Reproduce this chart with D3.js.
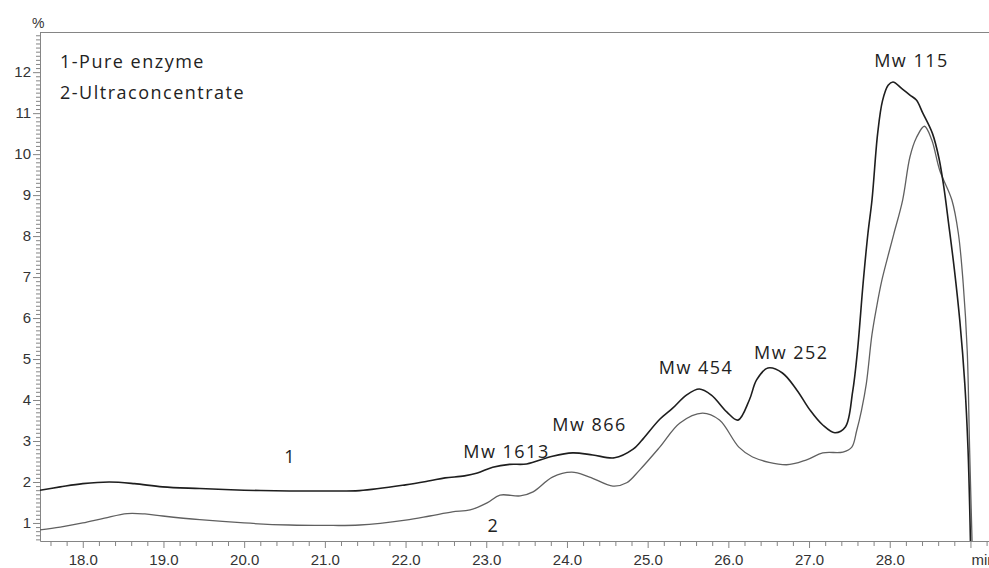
<!DOCTYPE html>
<html>
<head>
<meta charset="utf-8">
<script src="https://cdn.jsdelivr.net/npm/d3@7"></script>
<style>
  body { margin: 0; background: #fff; }
  svg { display: block; }
  .axis path, .axis line { stroke: #858585; }
  .axis text { font-family: "Liberation Sans", Arial, sans-serif; font-size: 15px; fill: #333; }
  .note { font-family: "Open Sans", sans-serif; font-size: 18px; letter-spacing: 1.5px; fill: #222; }
</style>
</head>
<body>
<div id="chart"></div>
<script>
// retention time (min) and signal (%)
const time1 = [17.47, 17.72, 18.00, 18.33, 18.64, 18.99, 19.45, 20.00, 20.56, 21.00, 21.43, 22.00, 22.30, 22.49,
  22.73, 22.89, 23.08, 23.29, 23.50, 23.82, 24.07, 24.32, 24.59, 24.82, 24.92, 25.15, 25.31, 25.48, 25.64, 25.79,
  25.98, 26.12, 26.26, 26.35, 26.49, 26.67, 26.85, 27.01, 27.17, 27.32, 27.45, 27.54, 27.60, 27.67, 27.73, 27.78,
  27.85, 27.91, 27.98, 28.04, 28.15, 28.25, 28.33, 28.41, 28.53, 28.61, 28.67, 28.73, 28.80, 28.87, 28.93, 28.97, 29.00];
const value1 = [1.80, 1.88, 1.96, 2.00, 1.96, 1.88, 1.84, 1.80, 1.78, 1.78, 1.79, 1.93, 2.03, 2.10,
  2.15, 2.22, 2.36, 2.43, 2.44, 2.63, 2.71, 2.66, 2.59, 2.80, 3.00, 3.53, 3.80, 4.12, 4.27, 4.12,
  3.71, 3.51, 4.00, 4.49, 4.78, 4.66, 4.24, 3.76, 3.39, 3.20, 3.34, 4.20, 5.20, 6.85, 8.07, 8.88,
  10.50, 11.30, 11.68, 11.76, 11.60, 11.44, 11.32, 11.00, 10.50, 9.90, 9.20, 8.30, 7.20, 5.90, 4.40, 2.80, 0.56];

const time2 = [17.47, 17.72, 18.00, 18.27, 18.55, 18.77, 18.99, 19.45, 20.00, 20.56, 21.00, 21.43, 22.00, 22.30,
  22.58, 22.80, 23.01, 23.17, 23.42, 23.58, 23.82, 24.06, 24.28, 24.57, 24.74, 24.90, 25.15, 25.40, 25.68, 25.89,
  26.13, 26.30, 26.72, 26.97, 27.17, 27.42, 27.53, 27.59, 27.65, 27.71, 27.78, 27.84, 27.90, 27.97, 28.05, 28.16,
  28.25, 28.33, 28.43, 28.52, 28.62, 28.77, 28.85, 28.91, 28.96, 28.99, 29.02];
const value2 = [0.83, 0.90, 1.00, 1.12, 1.23, 1.22, 1.17, 1.08, 1.00, 0.95, 0.94, 0.95, 1.07, 1.17,
  1.27, 1.32, 1.49, 1.68, 1.66, 1.76, 2.12, 2.24, 2.12, 1.90, 1.98, 2.29, 2.85, 3.44, 3.68, 3.51,
  2.85, 2.61, 2.42, 2.54, 2.71, 2.73, 2.85, 3.25, 3.75, 4.40, 5.60, 6.30, 6.90, 7.45, 8.05, 8.88,
  9.93, 10.40, 10.68, 10.35, 9.60, 8.88, 8.07, 6.85, 5.20, 2.78, 0.56];

// peak labels: text, time, height of the baseline
const peakText = ["1", "2", "Mw 1613", "Mw 866", "Mw 454", "Mw 252", "Mw 115"];
const peakTime = [20.57, 23.09, 23.25, 24.28, 25.60, 26.78, 28.27];
const peakValue = [2.46, 0.78, 2.59, 3.24, 4.63, 5.00, 12.12];

const legendText = ["1-Pure enzyme", "2-Ultraconcentrate"];

const xTicks = d3.range(18, 30);      // 18.0 ... 29 (29 shows "min")
const yTicks = d3.range(1, 13);       // 1 ... 12

function drawChart() {
    const width = 989, height = 568;
    const plot = { left: 40, right: 989, top: 32, bottom: 541 };

    const svg = d3.select('#chart').append('svg')
        .attr('width', width).attr('height', height);

    const x = d3.scaleLinear().domain([17.47, 29.23]).range([plot.left, plot.right]);
    const y = d3.scaleLinear().domain([0.56, 12.98]).range([plot.bottom, plot.top]);

    // top border line
    svg.append('line')
        .attr('x1', plot.left).attr('x2', plot.right)
        .attr('y1', plot.top + 0.5).attr('y2', plot.top + 0.5)
        .attr('stroke', '#858585');

    // x axis: minor ticks every 0.2, major every 1.0
    const xMinor = d3.range(17.6, 29.25, 0.2).filter(t => Math.abs(t - Math.round(t)) > 0.01);
    svg.append('g').attr('class', 'axis')
        .attr('transform', `translate(0,${plot.bottom})`)
        .call(d3.axisBottom(x).tickValues(xMinor).tickSize(5).tickFormat(''))
        .select('.domain').remove();
    svg.append('g').attr('class', 'axis')
        .attr('transform', `translate(0,${plot.bottom})`)
        .call(d3.axisBottom(x).tickValues(xTicks).tickSize(7).tickSizeOuter(0).tickPadding(6)
            .tickFormat(d => d === 29 ? '' : d3.format('.1f')(d)));
    svg.append('text')
        .attr('x', x(29) + 1).attr('y', plot.bottom + 24)
        .style('font-family', '"Liberation Sans", Arial, sans-serif').style('font-size', '15px').style('fill', '#333')
        .text('min');

    // y axis: minor ticks every 0.1, major every 1
    const yMinor = d3.range(0.6, 12.95, 0.1).filter(v => Math.abs(v - Math.round(v)) > 0.01);
    svg.append('g').attr('class', 'axis')
        .attr('transform', `translate(${plot.left},0)`)
        .call(d3.axisLeft(y).tickValues(yMinor).tickSize(4).tickFormat(''))
        .select('.domain').remove();
    svg.append('g').attr('class', 'axis')
        .attr('transform', `translate(${plot.left},0)`)
        .call(d3.axisLeft(y).tickValues(yTicks).tickSize(7).tickSizeOuter(0).tickPadding(2).tickFormat(d3.format('d')));
    svg.append('text')
        .attr('x', 32).attr('y', 28)
        .style('font-family', '"Liberation Sans", Arial, sans-serif').style('font-size', '14px').style('fill', '#333')
        .text('%');

    // the two chromatograms
    const line = d3.line()
        .x(d => x(d[0]))
        .y(d => y(d[1]))
        .curve(d3.curveCatmullRom.alpha(0.5));

    const series2 = d3.zip(time2, value2);
    const series1 = d3.zip(time1, value1);

    svg.append('path').datum(series2)
        .attr('d', line).attr('fill', 'none')
        .attr('stroke', '#606060').attr('stroke-width', 1.3);
    svg.append('path').datum(series1)
        .attr('d', line).attr('fill', 'none')
        .attr('stroke', '#1e1e1e').attr('stroke-width', 1.6);

    // peak annotations
    svg.selectAll('.peak')
        .data(peakText)
        .enter()
        .append('text')
        .attr('class', 'note peak')
        .attr('x', (d, i) => x(peakTime[i]))
        .attr('y', (d, i) => y(peakValue[i]))
        .attr('text-anchor', 'middle')
        .text(d => d);

    // legend text top left
    svg.selectAll('.legend')
        .data(legendText)
        .enter()
        .append('text')
        .attr('class', 'note legend')
        .attr('x', 60)
        .attr('y', (d, i) => 68 + i * 31)
        .text(d => d);
}

drawChart();
</script>
</body>
</html>
